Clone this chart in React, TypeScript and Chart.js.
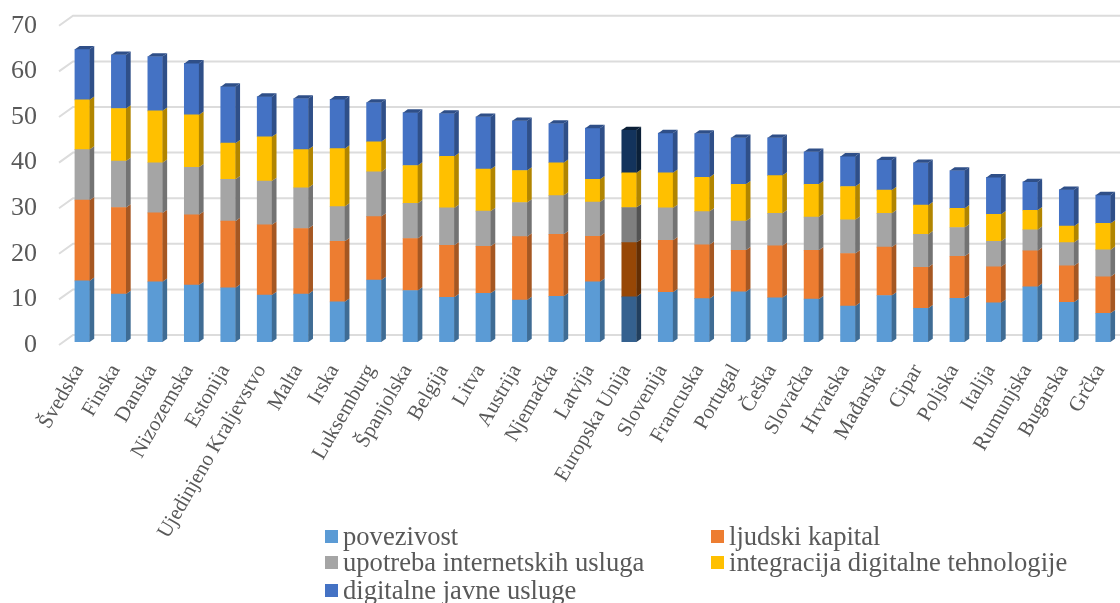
import React, { useEffect, useRef } from "react";
import { Chart, registerables } from "chart.js";

Chart.register(...registerables);

const categories = ["Švedska","Finska","Danska","Nizozemska","Estonija","Ujedinjeno Kraljevstvo","Malta","Irska","Luksemburg","Španjolska","Belgija","Litva","Austrija","Njemačka","Latvija","Europska Unija","Slovenija","Francuska","Portugal","Češka","Slovačka","Hrvatska","Mađarska","Cipar","Poljska","Italija","Rumunjska","Bugarska","Grčka"];

const povezivost = [13.4,10.5,13.2,12.5,11.9,10.3,10.5,8.8,13.6,11.3,9.8,10.7,9.2,10,13.2,9.9,10.9,9.5,11,9.7,9.4,7.9,10.2,7.4,9.6,8.6,12.1,8.7,6.3];
const ljudskiKapital = [17.7,19,15.1,15.4,14.6,15.4,14.4,13.3,13.9,11.4,11.4,10.3,13.9,13.6,10,11.9,11.4,11.8,9.1,11.4,10.7,11.5,10.6,9,9.2,7.9,7.9,8,8];
const upotreba = [11.1,10.2,11,10.4,9.2,9.6,8.9,7.6,9.8,7.7,8.2,7.7,7.5,8.5,7.5,7.7,7.1,7.3,6.4,7.1,7.3,7.4,7.4,7.2,6.3,5.6,4.6,5.1,5.9];
const integracija = [10.9,11.5,11.4,11.5,7.9,9.7,8.4,12.7,6.6,8.3,11.3,9.2,7,7.2,5,7.6,7.7,7.5,8.1,8.3,7.2,7.3,5.1,6.4,4.2,5.9,4.3,3.6,5.8];
const javneUsluge = [11.1,11.8,11.9,11.3,12.4,8.8,11.2,10.8,8.6,11.6,9.4,11.5,10.9,8.6,11.2,9.4,8.7,9.6,10.2,8.3,7.1,6.6,6.6,9.3,8.3,8.1,6.2,8,6.2];

const seriesNames = ["povezivost","ljudski kapital","upotreba internetskih usluga","integracija digitalne tehnologije","digitalne javne usluge"];
const seriesValues = [povezivost, ljudskiKapital, upotreba, integracija, javneUsluge];

const frontColors = ["#5B9BD5","#ED7D31","#A5A5A5","#FFC000","#4472C4"];
const sideColors = ["#3F6C94","#A55722","#737373","#B18500","#2F4F88"];
const euFrontColors = ["#35618F","#974706","#7F7F7F","#FFC000","#13335C"];
const euSideColors = ["#223F5E","#632E04","#535353","#B18500","#0B2038"];
const highlightedCategory = "Europska Unija";

const yTicks = [0,10,20,30,40,50,60,70];
const gridColor = "#DCDCDC";
const textColor = "#595959";
const fontFamily = "'Liberation Serif', 'Times New Roman', serif";

const depthX = 4.7;
const depthY = 3.3;

const faces3d = {
  id: "faces3d",
  beforeDatasetsDraw(chart: any) {
    const { ctx, scales } = chart;
    const y = scales.y;
    const edge = chart.width;
    ctx.save();
    ctx.strokeStyle = gridColor;
    ctx.lineWidth = 2;
    yTicks.forEach((v) => {
      const py = y.getPixelForValue(v);
      ctx.beginPath();
      ctx.moveTo(59, py + 3);
      ctx.lineTo(73, py - 7);
      ctx.lineTo(edge, py - 7);
      ctx.stroke();
    });
    ctx.restore();
  },
  afterDatasetsDraw(chart: any) {
    const { ctx } = chart;
    const last = chart.data.datasets.length - 1;
    const euIdx = categories.indexOf(highlightedCategory);
    ctx.save();
    chart.data.datasets.forEach((_: any, ds: number) => {
      chart.getDatasetMeta(ds).data.forEach((bar: any, i: number) => {
        const { x, y, base, width } = bar.getProps(["x", "y", "base", "width"], true);
        const right = x + width / 2;
        const left = x - width / 2;
        const side = i === euIdx ? euSideColors[ds] : sideColors[ds];
        ctx.fillStyle = side;
        ctx.beginPath();
        ctx.moveTo(right, y);
        ctx.lineTo(right + depthX, y - depthY);
        ctx.lineTo(right + depthX, base - depthY);
        ctx.lineTo(right, base);
        ctx.closePath();
        ctx.fill();
        if (ds === last) {
          ctx.beginPath();
          ctx.moveTo(left, y);
          ctx.lineTo(left + depthX, y - depthY);
          ctx.lineTo(right + depthX, y - depthY);
          ctx.lineTo(right, y);
          ctx.closePath();
          ctx.fill();
        }
      });
    });
    ctx.restore();
  },
};

const noPadding = (s: any) => {
  s.paddingTop = 0;
  s.paddingBottom = 0;
  s.paddingLeft = 0;
  s.paddingRight = 0;
};

export default function App() {
  const ref = useRef<HTMLCanvasElement>(null);
  useEffect(() => {
    const euIdx = categories.indexOf(highlightedCategory);
    const chart = new Chart(ref.current as HTMLCanvasElement, {
      type: "bar",
      data: {
        labels: categories,
        datasets: seriesNames.map((name, s) => ({
          label: name,
          data: seriesValues[s],
          backgroundColor: categories.map((_, i) => (i === euIdx ? euFrontColors[s] : frontColors[s])),
          borderWidth: 0,
          barThickness: 14.6,
        })),
      },
      options: {
        responsive: false,
        animation: false,
        layout: { padding: { top: 22.8, left: 0, right: 18.7, bottom: 0 } },
        plugins: { legend: { display: false }, tooltip: { enabled: false } },
        scales: {
          x: {
            stacked: true,
            grid: { display: false, drawTicks: false },
            border: { display: false },
            afterFit: (s: any) => { s.height = 603 - 342; noPadding(s); },
            ticks: {
              autoSkip: false,
              minRotation: 60,
              maxRotation: 60,
              padding: 18,
              labelOffset: -3,
              color: textColor,
              font: { family: fontFamily, size: 21 },
            },
          },
          y: {
            stacked: true,
            min: 0,
            max: 70,
            grid: { display: false, drawTicks: false },
            border: { display: false },
            afterFit: (s: any) => { s.width = 64; noPadding(s); },
            ticks: {
              stepSize: 10,
              padding: 27,
              labelOffset: 3,
              color: textColor,
              font: { family: fontFamily, size: 26 },
            },
          },
        },
      },
      plugins: [faces3d],
    } as any);
    return () => chart.destroy();
  }, []);

  const legendPos = [
    { left: 325, top: 523 },
    { left: 711, top: 523 },
    { left: 325, top: 549 },
    { left: 711, top: 549 },
    { left: 325, top: 577 },
  ];

  return (
    <div style={{ position: "fixed", left: 0, top: 0, width: 1120, height: 603, overflow: "hidden", background: "#fff" }}>
      <canvas ref={ref} width={1140} height={603} style={{ position: "absolute", left: 0, top: 0 }} />
      {seriesNames.map((name, i) => (
        <div key={name} style={{ position: "absolute", left: legendPos[i].left, top: legendPos[i].top, height: 27, display: "flex", alignItems: "center", whiteSpace: "nowrap", fontFamily, fontSize: 26.6, color: textColor, lineHeight: "27px" }}>
          <span style={{ display: "inline-block", width: 13, height: 13, marginRight: 5, background: frontColors[i] }} />
          <span>{name}</span>
        </div>
      ))}
    </div>
  );
}
